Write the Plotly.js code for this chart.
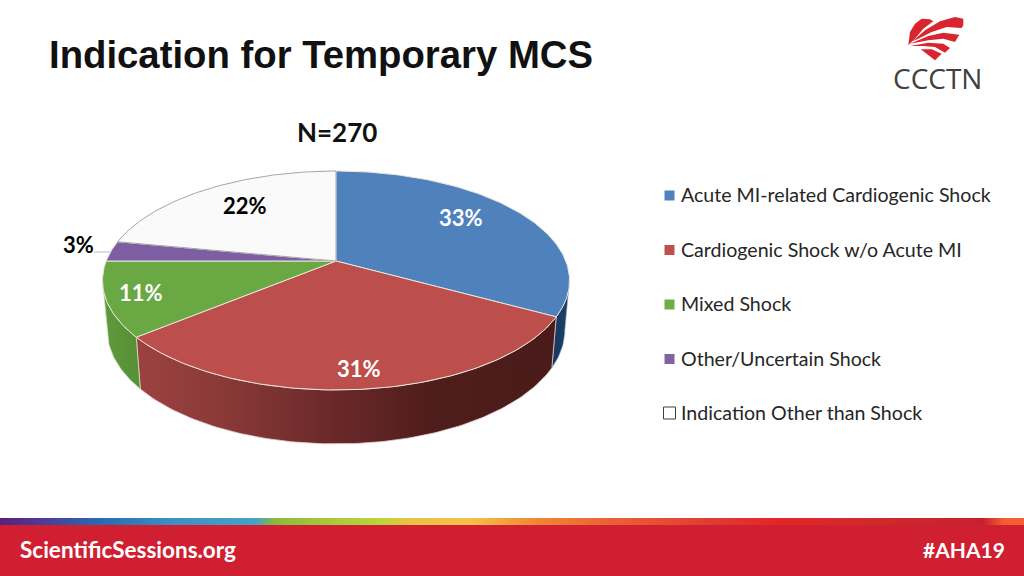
<!DOCTYPE html>
<html><head><meta charset="utf-8">
<script src="https://cdn.plot.ly/plotly-3.0.1.min.js"></script>
<style>html,body{margin:0;padding:0;background:#fff;overflow:hidden}#c{width:1024px;height:576px}</style>
</head><body><div id="c"></div>
<script>
const categories = ["Acute MI-related Cardiogenic Shock","Cardiogenic Shock w/o Acute MI","Mixed Shock","Other/Uncertain Shock","Indication Other than Shock"];
const values = [33,31,11,3,22];
const topColors = ["#4f81bd","#bc4e4b","#6aa843","#7d5ea2","#fafafa"];
const legendColors = ["#4f81bd","#c0504d","#70ad47","#8064a2","#ffffff"];
const labelColors = ["#ffffff","#ffffff","#ffffff","#000000","#000000"];
const labelX = [461,359,141,78,245];
const labelY = [217,368,292,244,205];
const wallScales = [
  [[0,"#17375e"],[1,"#1c4269"]],
  [[0,"#9c4240"],[0.2,"#8a3a38"],[0.45,"#6d2a2a"],[0.7,"#4f1d1c"],[1,"#4a1b1a"]],
  [[0,"#5f9a3b"],[1,"#578f35"]]
];

// projection of the pie's circular top face
const cx=336, cy=261, R=229.8, S=106, K=0.178;
const rad=d=>d*Math.PI/180;
function topPt(deg){const u=Math.sin(rad(deg)),v=Math.cos(rad(deg)),w=1+K*v;return [cx+R*u/w,cy-S*v/w];}
function botPt(deg){const p=topPt(deg);return [cx+(p[0]-cx)*0.98,cy+(p[1]-cy)*1.04+48.8];}
function arc(fn,a,b){const n=Math.max(2,Math.ceil(Math.abs(b-a))),o=[];for(let i=0;i<=n;i++)o.push(fn(a+(b-a)*i/n));return o;}

const total=values.reduce((a,b)=>a+b,0);
const bounds=[0];values.forEach((v,i)=>bounds.push(bounds[i]+v/total*360));

const traces=[];
// the side wall is visible between the two silhouette angles of the projected circle
const edgeRight=Math.acos(-K)*180/Math.PI, edgeLeft=360-edgeRight;
const wallRanges=[[edgeRight,bounds[1]],[bounds[1],bounds[2]],[bounds[2],edgeLeft]];
wallRanges.forEach((r,i)=>{
  const pts=arc(topPt,r[0],r[1]).concat(arc(botPt,r[1],r[0]));pts.push(pts[0]);
  traces.push({type:"scatter",mode:"lines",x:pts.map(p=>p[0]),y:pts.map(p=>p[1]),fill:"toself",
    fillgradient:{type:"horizontal",colorscale:wallScales[i]},
    line:{color:i==0?"#9fb3c8":i==1?"#e6cfcf":"#cfe0c4",width:i==0?0.6:0.8},hoverinfo:"skip",showlegend:false,name:categories[i]+" side"});
});
values.forEach((v,i)=>{
  const pts=[[cx,cy]].concat(arc(topPt,bounds[i],bounds[i+1]));pts.push([cx,cy]);
  traces.push({type:"scatter",mode:"lines",x:pts.map(p=>p[0]),y:pts.map(p=>p[1]),fill:"toself",fillcolor:topColors[i],
    line:{color:i==4?"#a6a6a6":"#e9e4dc",width:1},name:categories[i],text:v+"%",hoverinfo:"name+text",showlegend:false});
});
// 3% leader
traces.push({type:"scatter",mode:"lines",x:[94,110],y:[252,252],line:{color:"#bfbfbf",width:1},hoverinfo:"skip",showlegend:false});

// key
const keyY=[195.5,250,304.5,359,413];
categories.forEach((c,i)=>{
  traces.push({type:"scatter",mode:"markers",x:[669.5],y:[keyY[i]],name:c,showlegend:false,hoverinfo:"name",
    marker:{symbol:"square",size:i==4?12:10,color:legendColors[i],line:{color:i==4?"#404040":legendColors[i],width:i==4?1:0}}});
});

// footer colour strip
const strip=[[0,"#5c1f7a"],[0.045,"#4b3f9a"],[0.1,"#2a6cb0"],[0.17,"#3e8fc5"],[0.25,"#45a3c5"],[0.268,"#8ab93f"],[0.32,"#a8c83c"],[0.37,"#b9d53a"],[0.4,"#e8c245"],[0.46,"#f5c04a"],[0.52,"#f08a35"],[0.6,"#ea5f35"],[0.7,"#e03a30"],[0.76,"#e42528"],[0.85,"#d02a2a"],[0.96,"#c9202f"],[0.98,"#f06030"],[1,"#f06030"]];
traces.push({type:"scatter",mode:"lines",x:[0,1024,1024,0,0],y:[518,518,525,525,518],fill:"toself",
  fillgradient:{type:"horizontal",colorscale:strip},line:{width:0},hoverinfo:"skip",showlegend:false});

const F="Lato, sans-serif";
const annotations=[];
values.forEach((v,i)=>annotations.push({x:labelX[i],y:labelY[i],text:"<b>"+v+"%</b>",showarrow:false,xanchor:"center",yanchor:"middle",font:{family:F,size:22,color:labelColors[i]}}));
categories.forEach((c,i)=>annotations.push({x:679,y:keyY[i]-0.8,text:c,showarrow:false,xanchor:"left",yanchor:"middle",font:{family:F,size:19.6,color:"#262626"}}));
annotations.push({x:337,y:132,text:"<b>N=270</b>",showarrow:false,xanchor:"center",yanchor:"middle",font:{family:F,size:26,color:"#111"}});
annotations.push({x:18,y:549,text:"<b>ScientificSessions.org</b>",showarrow:false,xanchor:"left",yanchor:"middle",font:{family:F,size:22.5,color:"#fff"}});
annotations.push({x:1007,y:549,text:"<b>#AHA19</b>",showarrow:false,xanchor:"right",yanchor:"middle",font:{family:F,size:21,color:"#fff"}});
annotations.push({x:937.5,y:78,text:"CCCTN",showarrow:false,xanchor:"center",yanchor:"middle",font:{family:"Open Sans, sans-serif",size:28,color:"#404040"}});

// logo heart, in a 3x frame with its origin at the top-left of the mark
const lx=z=>(900+z/3).toFixed(1), ly=z=>(12+z/3).toFixed(1);
const poly=a=>"M"+a.map(p=>lx(p[0])+" "+ly(p[1])).join("L")+"Z";
const heart=[
 [[25,100],[30,60],[45,35],[65,20],[90,22],[100,28],[70,50],[45,80]],
 [[38,88],[75,55],[120,28],[165,15],[190,20],[190,40],[185,48],[140,45],[95,60],[55,80]],
 [[30,95],[85,72],[130,62],[178,68],[165,90],[130,80],[85,85]],
 [[30,102],[85,92],[130,95],[150,108],[135,122],[105,105],[70,102]],
 [[62,112],[95,112],[125,125],[105,145]]
];
const shapes=[{type:"rect",xref:"x",yref:"y",x0:0,x1:1024,y0:525,y1:576,fillcolor:"#d01f30",line:{width:0},layer:"below"}];
heart.forEach(h=>shapes.push({type:"path",xref:"x",yref:"y",path:poly(h),fillcolor:"#d9252e",line:{width:0},layer:"below"}));

const layout={width:1024,height:576,margin:{l:0,r:0,t:0,b:0},paper_bgcolor:"#fff",plot_bgcolor:"#fff",showlegend:false,
  title:{text:"<b>Indication for Temporary MCS</b>",x:49/1024,xanchor:"left",xref:"paper",y:1-55/576,yanchor:"middle",yref:"paper",font:{family:"Liberation Sans, Arial, sans-serif",size:38.3,color:"#111"}},
  xaxis:{range:[0,1024],visible:false,fixedrange:true},
  yaxis:{range:[576,0],visible:false,fixedrange:true},
  annotations,shapes};
Plotly.newPlot("c",traces,layout,{displayModeBar:false,staticPlot:true});
</script></body></html>
